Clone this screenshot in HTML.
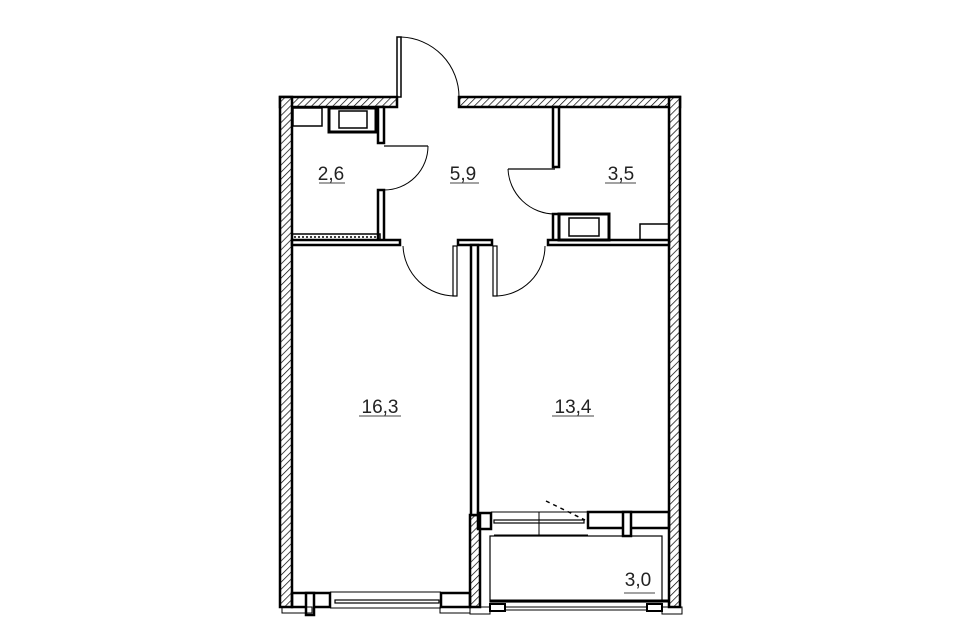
<!DOCTYPE html>
<html><head><meta charset="utf-8"><style>
html,body{margin:0;padding:0;background:#fff;width:960px;height:640px;overflow:hidden}
svg{display:block}
text{font-family:"Liberation Sans",sans-serif;font-size:19px;fill:#222}
</style></head><body>
<svg width="960" height="640" viewBox="0 0 960 640" xmlns="http://www.w3.org/2000/svg">
<defs>
<pattern id="h" width="5" height="5" patternUnits="userSpaceOnUse" patternTransform="rotate(45)">
<rect width="5" height="5" fill="#fff"/><line x1="0" y1="0" x2="0" y2="5" stroke="#000" stroke-width="1.4"/>
</pattern>
</defs>
<g stroke="#000" stroke-width="2.5">
<!-- outer hatched walls -->
<rect x="280" y="97" width="117" height="10" fill="url(#h)"/>
<rect x="459" y="97" width="221" height="10" fill="url(#h)"/>
<rect x="280" y="97" width="12" height="510" fill="url(#h)"/>
<rect x="669" y="97" width="11" height="510" fill="url(#h)"/>
<rect x="470" y="515" width="10" height="92" fill="url(#h)"/>
</g>
<g fill="none" stroke="#000">
<!-- entrance door -->
<rect x="397" y="37" width="4" height="60" stroke-width="1.5"/>
<path d="M401 37 A60 60 0 0 1 459 97" stroke-width="1"/>
<!-- bathroom 2.6 partitions -->
<rect x="378" y="107" width="6" height="36" fill="#fff" stroke-width="2.5"/>
<rect x="378" y="190" width="6" height="52" fill="#fff" stroke-width="2.5"/>
<line x1="384" y1="146" x2="428" y2="146" stroke-width="1.2"/>
<path d="M428 146 A44 44 0 0 1 384 190" stroke-width="1"/>
<rect x="292" y="234" width="88" height="6" stroke-width="1.5"/>
<line x1="294" y1="237" x2="378" y2="237" stroke-width="1.5" stroke-dasharray="2 2"/>
<rect x="292" y="240" width="108" height="5" fill="#fff" stroke-width="2.5"/>
<rect x="293" y="108" width="29" height="18" stroke-width="1.5"/>
<rect x="329" y="108" width="47" height="24" stroke-width="3"/>
<rect x="339" y="111" width="28" height="17" stroke-width="1.5"/>
<!-- 3.5 room -->
<rect x="553" y="107" width="6" height="60" fill="#fff" stroke-width="2.5"/>
<line x1="508" y1="169" x2="555" y2="169" stroke-width="1.2"/>
<path d="M508 169 A47 47 0 0 0 555 214" stroke-width="1"/>
<rect x="553" y="214" width="6" height="28" fill="#fff" stroke-width="2.5"/>
<rect x="548" y="240" width="121" height="5" fill="#fff" stroke-width="2.5"/>
<rect x="559" y="214" width="50" height="26" stroke-width="3"/>
<rect x="569" y="218" width="30" height="18" stroke-width="1.5"/>
<path d="M640 240 V224 H668" stroke-width="1.5"/>
<!-- central wall -->
<rect x="458" y="240" width="34" height="5" fill="#fff" stroke-width="2.5"/>
<rect x="471" y="245" width="7" height="270" fill="#fff" stroke-width="2.5"/>
<rect x="453" y="246" width="4" height="50" stroke-width="1.2"/>
<path d="M403 246 A52 52 0 0 0 455 296" stroke-width="1"/>
<rect x="493" y="246" width="4" height="50" stroke-width="1.2"/>
<path d="M495 296 A50 50 0 0 0 545 246" stroke-width="1"/>
<!-- bedroom bottom -->
<rect x="292" y="593" width="38" height="14" stroke-width="2.5"/>
<rect x="306" y="593" width="8" height="22" fill="#fff" stroke-width="2.5"/>
<rect x="441" y="593" width="29" height="14" stroke-width="2.5"/>
<line x1="330" y1="592" x2="441" y2="592" stroke-width="1"/>
<rect x="335" y="600" width="104" height="3" stroke-width="1.2"/>
<line x1="330" y1="608" x2="441" y2="608" stroke-width="1"/>
<rect x="282" y="607" width="30" height="6" stroke-width="1"/>
<rect x="440" y="607" width="30" height="6" stroke-width="1"/>
<!-- balcony threshold -->
<rect x="478" y="513" width="13" height="16" stroke-width="2.5"/>
<rect x="588" y="512" width="81" height="16" stroke-width="2.5"/>
<rect x="623" y="512" width="8" height="24" fill="#fff" stroke-width="2.5"/>
<line x1="491" y1="512" x2="588" y2="512" stroke-width="1"/>
<rect x="494" y="520" width="90" height="3" stroke-width="1.2"/>
<line x1="494" y1="535" x2="588" y2="535" stroke-width="1"/>
<line x1="539" y1="512" x2="539" y2="535" stroke-width="1"/>
<line x1="546" y1="501" x2="585" y2="520" stroke-width="1.5" stroke-dasharray="4 4"/>
<!-- balcony -->
<rect x="490" y="536" width="172" height="66" stroke-width="1.2"/>
<line x1="490" y1="601" x2="669" y2="601" stroke-width="3"/>
<rect x="490" y="604" width="15" height="7" stroke-width="2"/>
<rect x="647" y="604" width="15" height="7" stroke-width="2"/>
<line x1="505" y1="607" x2="647" y2="607" stroke-width="1"/>
<line x1="505" y1="610" x2="647" y2="610" stroke-width="1"/>
<rect x="470" y="607" width="20" height="7" stroke-width="1"/>
<rect x="662" y="607" width="20" height="7" stroke-width="1"/>
</g>
<g text-anchor="middle">
<text x="331" y="180">2,6</text><line x1="319" y1="183" x2="345" y2="183" stroke="#444"/>
<text x="463" y="180">5,9</text><line x1="450" y1="183" x2="479" y2="183" stroke="#444"/>
<text x="621" y="180">3,5</text><line x1="605" y1="183" x2="636" y2="183" stroke="#444"/>
<text x="380" y="413">16,3</text><line x1="359" y1="416" x2="401" y2="416" stroke="#444"/>
<text x="573" y="413">13,4</text><line x1="552" y1="416" x2="594" y2="416" stroke="#444"/>
<text x="638" y="586">3,0</text><line x1="624" y1="593" x2="655" y2="593" stroke="#444"/>
</g>
</svg>
</body></html>
